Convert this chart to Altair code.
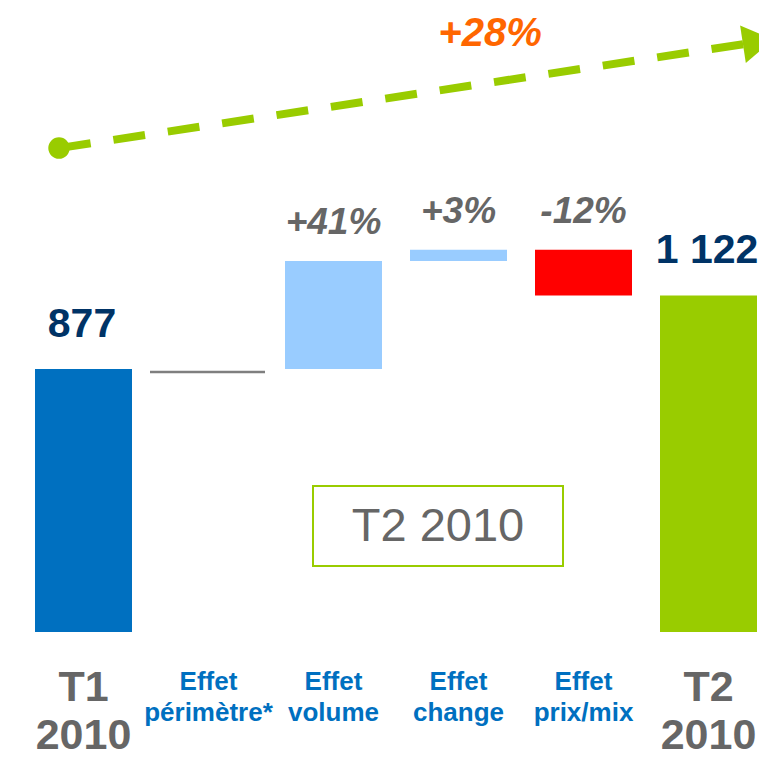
import altair as alt
import pandas as pd

# ---- data -------------------------------------------------------------
categories = ["T1 2010", "Effet périmètre*", "Effet volume", "Effet change",
              "Effet prix/mix", "T2 2010"]
label_text = ["T1\n2010", "Effet\npérimètre*", "Effet\nvolume", "Effet\nchange",
              "Effet\nprix/mix", "T2\n2010"]
kinds = ["total", "flat", "step", "step", "step", "total"]
bar_start = [0, 877, 877, 1237, 1274, 0]
bar_end = [877, 877, 1237, 1274, 1122, 1122]
bar_colors = ["#0070C0", "#7F7F7F", "#99CCFF", "#99CCFF", "#FF0000", "#99CC00"]
value_labels = ["877", "", "", "", "", "1 122"]
pct_labels = ["", "", "+41%", "+3%", "-12%", ""]

growth_label = "+28%"
box_label = "T2 2010"

# annotation geometry (x in category steps, y in data units)
arrow_x = [0.304, 5.792]
arrow_y = [1613, 1960]
arrow_head = (5.896, 1967)
growth_pos = (3.752, 1995)
box_x = (2.336, 4.336)
box_y = (220, 487)
box_text_pos = (3.336, 350)
total_label_y = -187
effect_label_y = -167

FONT = "Liberation Sans, Arial"

df = pd.DataFrame({
    "category": categories,
    "idx": list(range(len(categories))),
    "label": label_text,
    "kind": kinds,
    "start": bar_start,
    "end": bar_end,
    "value_label": value_labels,
    "pct": pct_labels,
})

xsc = alt.Scale(domain=[0, len(categories)], range=[0, 750], nice=False, zero=False)
ysc = alt.Scale(domain=[0, 2080], nice=False)


def X(field, axis=None):
    return alt.X(field, type="quantitative", scale=xsc, axis=axis, title=None)


def Y(field):
    return alt.Y(field, type="quantitative", scale=ysc, axis=None, title=None)


axis_x = alt.Axis(values=list(range(len(categories) + 1)), labels=False, grid=False,
                  domainColor="#8C8C8C", tickColor="#8C8C8C", tickSize=12,
                  domainWidth=1.5, tickWidth=1.5, title=None)

base = alt.Chart(df).transform_calculate(
    xl="datum.idx + 0.112", xr="datum.idx + 0.888", xm="datum.idx + 0.5",
    fl="datum.idx + 0.032", fr="datum.idx + 0.952",
    top="max(datum.start, datum.end)",
)

bars = base.transform_filter("datum.kind != 'flat'").mark_bar().encode(
    x=X("xl", axis_x), x2="xr:Q",
    y=Y("start"), y2="end:Q",
    color=alt.Color("category:N", scale=alt.Scale(domain=categories, range=bar_colors), legend=None),
)

flat = base.transform_filter("datum.kind == 'flat'").mark_rule(
    strokeWidth=2.5, color="#7F7F7F", yOffset=3
).encode(x=X("fl"), x2="fr:Q", y=Y("end"))

values = base.transform_filter("datum.value_label != ''").mark_text(
    font=FONT, fontWeight="bold", fontSize=41, color="#003366", baseline="middle", dy=-44, dx=-1.5
).encode(x=X("xm"), y=Y("end"), text="value_label:N")

pcts = base.transform_filter("datum.pct != ''").mark_text(
    font=FONT, fontWeight="bold", fontStyle="italic", fontSize=37, color="#666666",
    baseline="middle", dy=-38
).encode(x=X("xm"), y=Y("top"), text="pct:N")

total_labels = base.transform_filter("datum.kind == 'total'").transform_calculate(
    ly=str(total_label_y)
).mark_text(
    font=FONT, fontWeight="bold", fontSize=43, color="#666666", baseline="middle",
    lineBreak="\n", lineHeight=48
).encode(x=X("xm"), y=Y("ly"), text="label:N")

effect_labels = base.transform_filter("datum.kind != 'total'").transform_calculate(
    ly=str(effect_label_y)
).mark_text(
    font=FONT, fontWeight="bold", fontSize=26, color="#0070C0", baseline="middle",
    lineBreak="\n", lineHeight=31
).encode(x=X("xm"), y=Y("ly"), text="label:N")

# ---- annotations ------------------------------------------------------
arrow_df = pd.DataFrame({"p": arrow_x, "v": arrow_y, "o": [0, 1]})
arrow_line = alt.Chart(arrow_df).mark_line(
    color="#99CC00", strokeWidth=8, strokeDash=[32, 23], strokeCap="butt"
).encode(x=X("p"), y=Y("v"), order="o:Q")

arrow_dot = alt.Chart(arrow_df.iloc[:1]).mark_point(
    filled=True, shape="circle", size=460, color="#99CC00", opacity=1
).encode(x=X("p"), y=Y("v"))

head_df = pd.DataFrame({"p": [arrow_head[0]], "v": [arrow_head[1]]})
arrow_tip = alt.Chart(head_df).mark_point(
    filled=True, shape="M-0.8,-1L0.8,0L-0.8,1Z", size=1444, color="#99CC00",
    opacity=1, angle=351.35
).encode(x=X("p"), y=Y("v"))

growth_df = pd.DataFrame({"p": [growth_pos[0]], "v": [growth_pos[1]], "t": [growth_label]})
growth = alt.Chart(growth_df).mark_text(
    font=FONT, fontWeight="bold", fontStyle="italic", fontSize=40, color="#FF6600",
    baseline="middle"
).encode(x=X("p"), y=Y("v"), text="t:N")

box_df = pd.DataFrame({"x1": [box_x[0]], "x2": [box_x[1]], "y1": [box_y[0]], "y2": [box_y[1]]})
box = alt.Chart(box_df).mark_rect(
    fill="white", stroke="#99CC00", strokeWidth=2
).encode(x=X("x1"), x2="x2:Q", y=Y("y1"), y2="y2:Q")

box_txt_df = pd.DataFrame({"p": [box_text_pos[0]], "v": [box_text_pos[1]], "t": [box_label]})
box_txt = alt.Chart(box_txt_df).mark_text(
    font=FONT, fontSize=47, color="#666666", baseline="middle"
).encode(x=X("p"), y=Y("v"), text="t:N")

chart = alt.layer(
    bars, flat, values, pcts, total_labels, effect_labels,
    box, box_txt, arrow_line, arrow_dot, arrow_tip, growth,
).properties(
    width=738, height=624,
    autosize=alt.AutoSizeParams(type="none"),
    padding={"left": 13, "top": 0, "right": 0, "bottom": 126},
).configure_view(stroke=None)

chart.save("out.html", embed_options={"renderer": "svg", "actions": False})
